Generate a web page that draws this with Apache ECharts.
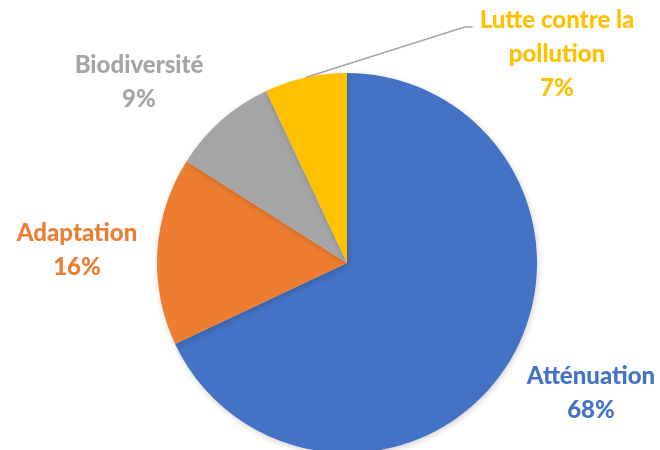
<!DOCTYPE html>
<html>
<head>
<meta charset="utf-8">
<script src="https://cdn.jsdelivr.net/npm/echarts@6/dist/echarts.min.js"></script>
<style>
  html, body { margin: 0; padding: 0; background: #ffffff; }
  #chart { width: 660px; height: 450px; }
</style>
</head>
<body>
<div id="chart"></div>
<script>
// Categories and shares (%)
const categories = ['Atténuation', 'Adaptation', 'Biodiversité', 'Lutte contre la\npollution'];
const shares = [68, 16, 9, 7];
const colors = ['#4472C4', '#ED7D31', '#A5A5A5', '#FFC000'];

// Label block centres (px) for each category
const labelSpots = [[591, 393], [77, 250], [139, 82], [557, 54]];
const LINE_H = 34;

const chart = echarts.init(document.getElementById('chart'), null, { renderer: 'canvas' });

const data = categories.map((name, i) => ({
  name: name,
  value: shares[i],
  itemStyle: { color: colors[i] },
  label: { color: colors[i] },
  labelLine: { show: i === 3 }
}));

chart.setOption({
  animation: false,
  series: [{
    type: 'pie',
    center: [347, 263],
    radius: 190,
    startAngle: 90,
    clockwise: true,
    itemStyle: {
      borderWidth: 0,
      shadowBlur: 6,
      shadowOffsetX: 1,
      shadowOffsetY: 2,
      shadowColor: 'rgba(0,0,0,0.18)'
    },
    label: {
      show: true,
      position: 'outside',
      overflow: 'none',
      edgeDistance: 0,
      fontFamily: 'Lato',
      fontWeight: 900,
      fontSize: 24,
      lineHeight: LINE_H,
      align: 'center',
      formatter: p => p.name + '\n' + p.value + '%'
    },
    labelLine: {
      show: true,
      length: 20,
      length2: 10,
      lineStyle: { color: '#A6A6A6', width: 1.5 }
    },
    labelLayout: function (params) {
      const spot = labelSpots[params.dataIndex];
      const out = { x: spot[0], y: spot[1], align: 'center', verticalAlign: 'middle' };
      if (params.labelLinePoints) {
        const w = params.labelRect.width;
        const h = params.labelRect.height;
        const left = spot[0] - w / 2;
        const top = spot[1] - h / 2;
        const start = params.labelLinePoints[0];
        out.labelLinePoints = [start, [left - 15, top + 24], [left - 7, top + 24]];
      }
      return out;
    },
    data: data
  }]
});
</script>
</body>
</html>
